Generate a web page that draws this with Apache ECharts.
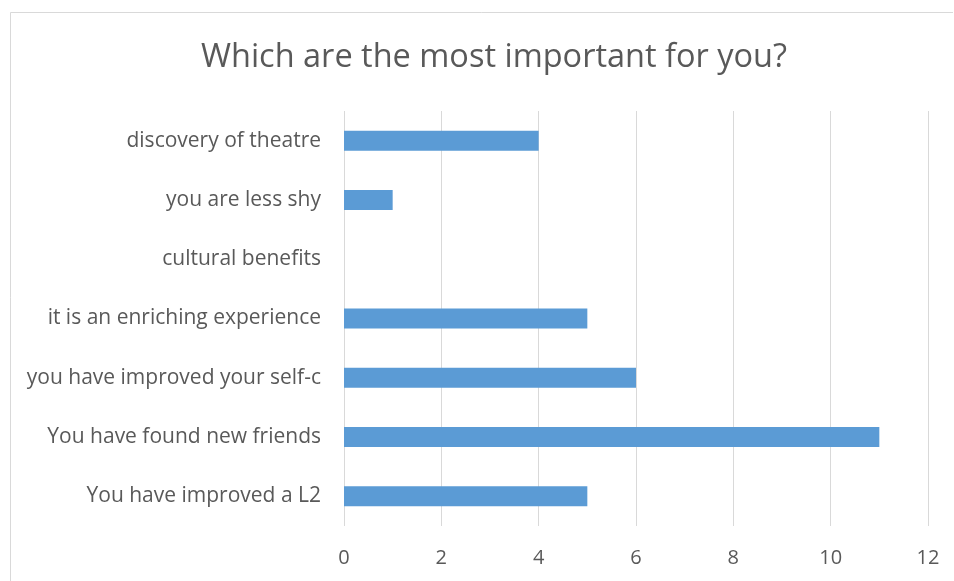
<!DOCTYPE html>
<html>
<head>
<meta charset="utf-8">
<script src="https://cdn.jsdelivr.net/npm/echarts@6/dist/echarts.min.js"></script>
<style>
  html, body { margin: 0; padding: 0; background: #fff; }
  #chart { width: 954px; height: 581px; }
</style>
</head>
<body>
<div id="chart"></div>
<script>
// Survey answers, listed bottom-to-top as they appear on the category axis
const categories = [
  'You have improved a L2',
  'You have found new friends',
  'you have improved your self-c',
  'it is an enriching experience',
  'cultural benefits',
  'you are less shy',
  'discovery of theatre'
];
const counts = [5, 11, 6, 5, 0, 1, 4];
const titleText = 'Which are the most important for you?';
const xMin = 0, xMax = 12, xStep = 2;

const chart = echarts.init(document.getElementById('chart'), null, { renderer: 'canvas' });
const font = '"Open Sans", "DejaVu Sans", sans-serif';
const textGrey = '#595959';

chart.setOption({
  animation: false,
  backgroundColor: '#ffffff',
  title: {
    text: titleText,
    left: 489,
    textAlign: 'center',
    top: 36,
    textStyle: { fontFamily: font, fontSize: 32.5, fontWeight: 'normal', color: textGrey }
  },
  graphic: [{
    type: 'polyline',
    shape: { points: [[10.5, 600], [10.5, 12.5], [953, 12.5]] },
    style: { stroke: '#d9d9d9', lineWidth: 1, fill: null },
    silent: true
  }],
  grid: { left: 344, right: 26, top: 111, bottom: 55, containLabel: false },
  xAxis: {
    type: 'value',
    min: xMin, max: xMax, interval: xStep,
    axisLine: { show: false },
    axisTick: { show: false },
    splitLine: { show: true, lineStyle: { color: '#d9d9d9', width: 1 } },
    axisLabel: { fontFamily: font, fontSize: 20, color: textGrey, margin: 22 }
  },
  yAxis: {
    type: 'category',
    data: categories,
    axisLine: { show: false },
    axisTick: { show: false },
    splitLine: { show: false },
    axisLabel: { fontFamily: font, fontSize: 21, color: textGrey, margin: 23 }
  },
  series: [{
    type: 'bar',
    data: counts,
    barWidth: 20,
    itemStyle: { color: '#5b9bd5' }
  }]
});
</script>
</body>
</html>
